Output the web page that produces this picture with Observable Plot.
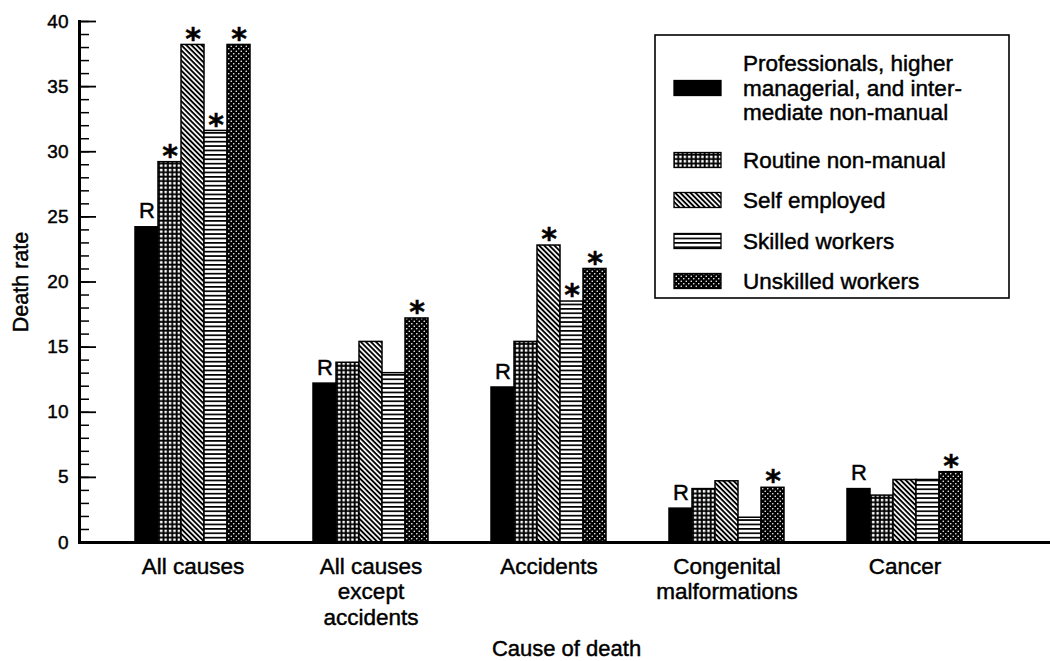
<!DOCTYPE html>
<html><head><meta charset="utf-8">
<script src="https://cdn.jsdelivr.net/npm/d3@7"></script>
<script src="https://cdn.jsdelivr.net/npm/@observablehq/plot@0.6"></script>
<style>
body{margin:0;background:#fff;}
#chart{position:relative;width:1050px;height:661px;}
#chart svg text{stroke:black;stroke-width:0.45px;}
</style></head><body><div id="chart"></div>
<script>
const causes = ["All causes", "All causes except accidents", "Accidents", "Congenital malformations", "Cancer"];
const causeLabels = ["All causes", "All causes\nexcept\naccidents", "Accidents", "Congenital\nmalformations", "Cancer"];
const groups = ["Professionals, higher managerial, and intermediate non-manual", "Routine non-manual", "Self employed", "Skilled workers", "Unskilled workers"];
const legendLabels = [["Professionals, higher", "managerial, and inter-", "mediate non-manual"], ["Routine non-manual"], ["Self employed"], ["Skilled workers"], ["Unskilled workers"]];
const professionals = [24.2, 12.2, 11.9, 2.6, 4.1];
const routine = [29.2, 13.8, 15.4, 4.1, 3.6];
const selfEmployed = [38.2, 15.4, 22.8, 4.7, 4.8];
const skilled = [31.6, 13.0, 18.5, 1.9, 4.8];
const unskilled = [38.2, 17.2, 21.0, 4.2, 5.4];
const markers = [
  ["R", "*", "*", "*", "*"],
  ["R", "", "", "", "*"],
  ["R", "", "*", "*", "*"],
  ["R", "", "", "", "*"],
  ["R", "", "", "", "*"]
];
const majorTicks = [0, 5, 10, 15, 20, 25, 30, 35, 40];
const minorTicks = d3.range(0, 41);
const fills = ["black", "url(#p-routine)", "url(#p-self)", "url(#p-skilled)", "url(#p-unskilled)"];

const series = [professionals, routine, selfEmployed, skilled, unskilled];
const rows = [];
causes.forEach((c, i) => groups.forEach((g, j) => rows.push({cause: c, group: g, value: series[j][i], mark: markers[i][j]})));

const font = "'Liberation Sans', Arial, Helvetica, sans-serif";

const plot = Plot.plot({
  width: 1050, height: 661,
  marginLeft: 79, marginRight: 0, marginTop: 21, marginBottom: 119,
  style: {fontFamily: font, background: "white", color: "black", overflow: "visible"},
  fx: {domain: causes, paddingInner: 0, paddingOuter: 0.2237, align: 0, label: null, axis: null},
  x: {domain: groups, paddingInner: 0, paddingOuter: 1.2765, align: 0.896, axis: null},
  y: {domain: [0, 40], axis: null},
  color: {domain: groups, range: fills},
  marks: [
    Plot.barY(rows, {fx: "cause", x: "group", y: "value", fill: "group", stroke: "black", strokeWidth: 1.5}),
    Plot.text(rows, {fx: "cause", x: "group", y: "value", text: "mark", filter: d => d.mark === "R", dy: -16, fontSize: 22}),
    Plot.text(rows, {fx: "cause", x: "group", y: "value", text: "mark", filter: d => d.mark === "*", dy: -6, fontSize: 30, fontWeight: "bold", fontFamily: "DejaVu Sans"}),
    Plot.text(causes, {fx: d => d, x: () => groups[2], text: d => causeLabels[causes.indexOf(d)], frameAnchor: "bottom", lineAnchor: "top", dy: 13, fontSize: 22.5, lineHeight: 1.14}),
    Plot.axisY({ticks: majorTicks, tickSize: 0, tickPadding: 11, fontSize: 19, label: null}),
    Plot.axisY({ticks: majorTicks, tickSize: -17, fill: "none", strokeWidth: 1.8, label: null}),
    Plot.axisY({ticks: minorTicks, tickSize: -10, fill: "none", strokeWidth: 1.5, label: null}),
    Plot.frame({facet: "super", anchor: "left", strokeWidth: 3}),
    Plot.frame({facet: "super", anchor: "bottom", strokeWidth: 3, insetRight: -82}),
    Plot.text(["Death rate"], {facet: "super", frameAnchor: "left", textAnchor: "middle", rotate: -90, dx: -58, fontSize: 21.5}),
    Plot.text(["Cause of death"], {facet: "super", frameAnchor: "bottom", textAnchor: "middle", dx: 42, dy: 113, fontSize: 22})
  ]
});

document.getElementById("chart").appendChild(plot);

// Pattern definitions
const svg = d3.select(plot);
const defs = svg.insert("defs", ":first-child");
const pr = defs.append("pattern").attr("id", "p-routine").attr("patternUnits", "userSpaceOnUse").attr("width", 4.4).attr("height", 4.4);
pr.append("rect").attr("width", 4.4).attr("height", 4.4).attr("fill", "black");
pr.append("rect").attr("x", 1.6).attr("y", 1.6).attr("width", 2.5).attr("height", 2.5).attr("fill", "white");
const ps = defs.append("pattern").attr("id", "p-self").attr("patternUnits", "userSpaceOnUse").attr("width", 3.6).attr("height", 3.6).attr("patternTransform", "rotate(45)");
ps.append("rect").attr("width", 3.6).attr("height", 3.6).attr("fill", "white");
ps.append("rect").attr("width", 3.6).attr("height", 1.9).attr("fill", "black");
const pk = defs.append("pattern").attr("id", "p-skilled").attr("patternUnits", "userSpaceOnUse").attr("width", 4.4).attr("height", 4.4);
pk.append("rect").attr("width", 4.4).attr("height", 4.4).attr("fill", "white");
pk.append("rect").attr("width", 4.4).attr("height", 1.7).attr("fill", "black");
const pu = defs.append("pattern").attr("id", "p-unskilled").attr("patternUnits", "userSpaceOnUse").attr("width", 5).attr("height", 5);
pu.append("rect").attr("width", 5).attr("height", 5).attr("fill", "black");
pu.append("circle").attr("cx", 1.25).attr("cy", 1.25).attr("r", 0.8).attr("fill", "white");
pu.append("circle").attr("cx", 3.75).attr("cy", 3.75).attr("r", 0.8).attr("fill", "white");

// Legend box
const lg = svg.append("g").attr("font-family", font).attr("font-size", 22.5).attr("fill", "black").attr("text-anchor", "start");
lg.append("rect").attr("x", 655).attr("y", 35).attr("width", 354).attr("height", 263).attr("fill", "white").attr("stroke", "black").attr("stroke-width", 1.6);
const centers = [88, 160, 200, 241, 281];
groups.forEach((g, j) => {
  lg.append("rect").attr("x", 674).attr("y", centers[j] - 7.5).attr("width", 47).attr("height", 15)
    .attr("fill", fills[j]).attr("stroke", "black").attr("stroke-width", 1.3);
  const lines = legendLabels[j];
  lines.forEach((t, k) => {
    lg.append("text").attr("x", 743).attr("y", centers[j] + 7.5 + (k - (lines.length - 1) / 2) * 24.5).text(t);
  });
});
</script>
</body></html>
